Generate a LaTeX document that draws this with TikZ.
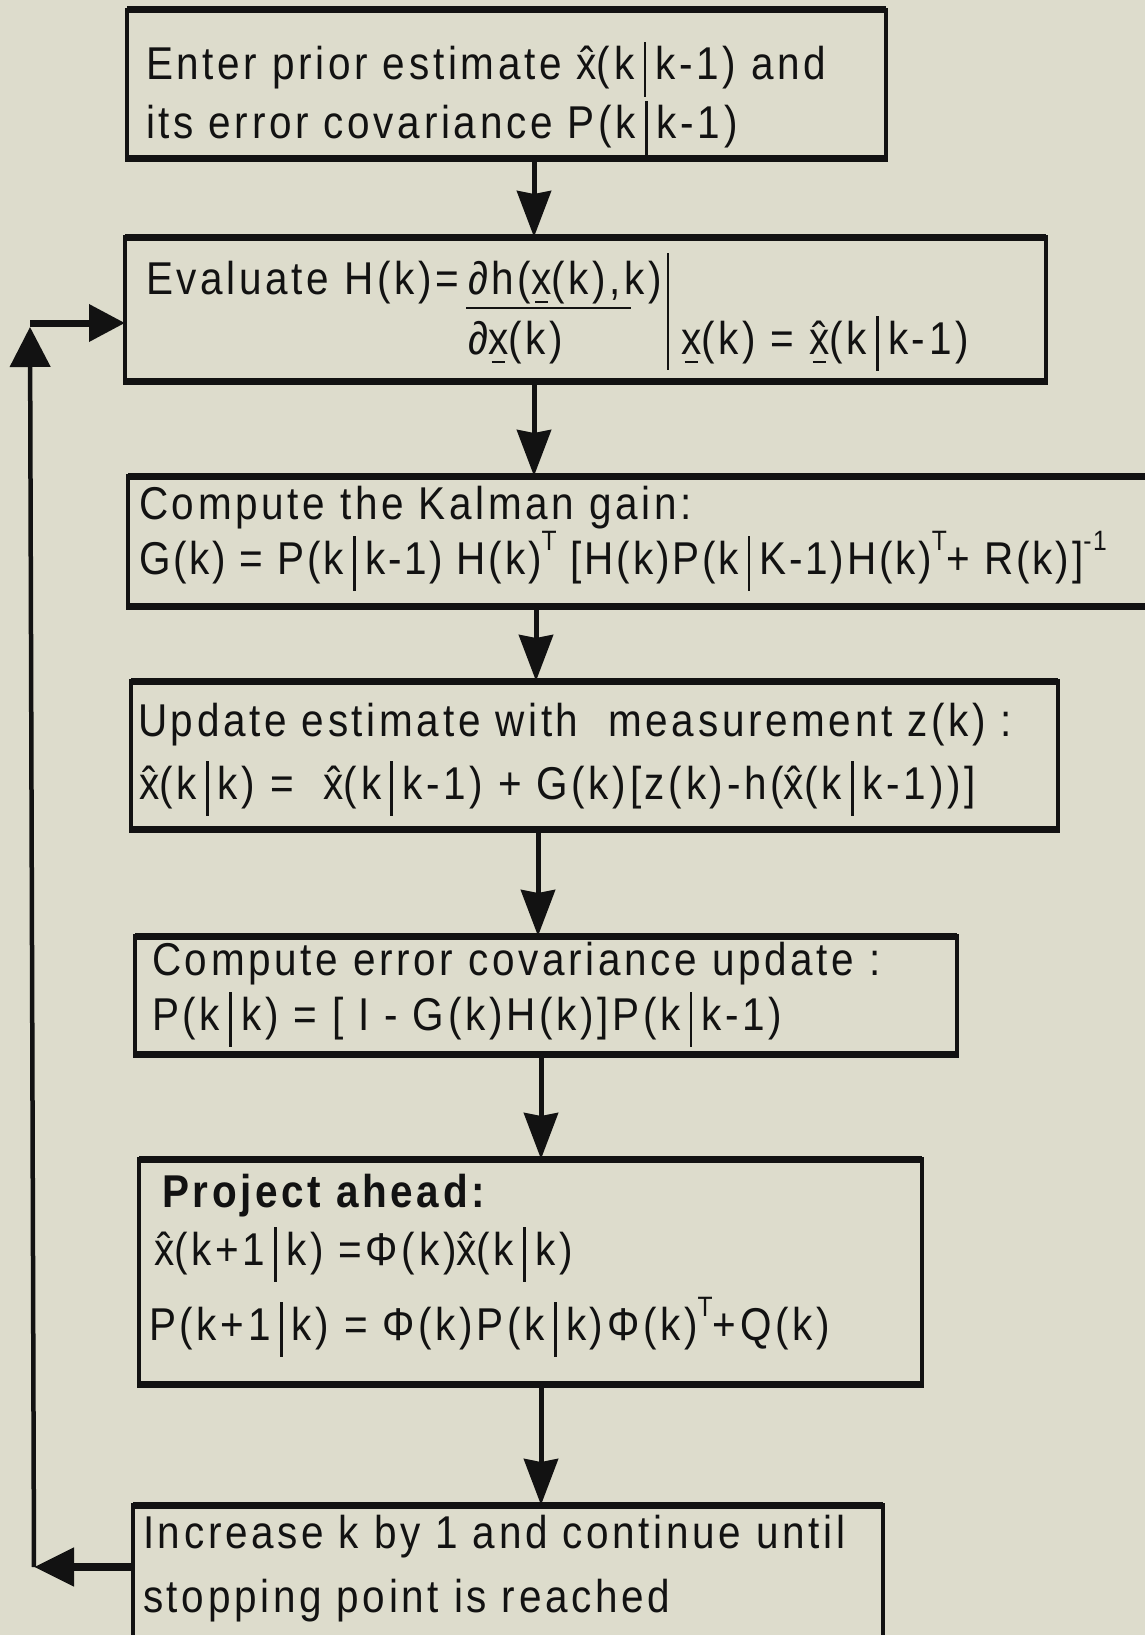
\documentclass[tikz,border=0pt]{standalone}
\usepackage{fontspec}
\setmainfont{Liberation Sans}[FakeStretch=0.88, LetterSpace=8]
\usetikzlibrary{arrows.meta}

\definecolor{paper}{RGB}{221,220,204}
\definecolor{ink}{RGB}{18,18,18}

% x with a hat, x underlined, and x with both
\newcommand\xh{\leavevmode\hbox{\ooalign{x\cr\hidewidth ˆ\hidewidth\cr}}}
\newcommand\xu{\leavevmode\hbox{\ooalign{x\cr\hidewidth\raisebox{-0.2em}{\rule{0.28em}{0.05em}}\hidewidth\cr}}}
\newcommand\xhu{\leavevmode\hbox{\ooalign{x\cr\hidewidth ˆ\hidewidth\cr\hidewidth\raisebox{-0.2em}{\rule{0.28em}{0.05em}}\hidewidth\cr}}}
% tall conditioning bar
\newcommand\vb{\hspace{0.2em}\rule[-0.36em]{0.06em}{1.18em}\hspace{0.2em}}
% small raised exponent
\newcommand\up[1]{\raisebox{0.52em}{\fontsize{28}{28}\selectfont #1}}

\tikzset{
  box/.style={draw=ink, line width=4pt, rectangle, inner sep=0pt, outer sep=0pt, anchor=north west},
  edge/.style={draw=ink, line width=7pt, shorten <=-2pt, shorten >=-2pt},
  txt/.style={anchor=base west, inner sep=0pt, outer sep=0pt, text=ink, font=\fontsize{46}{55}\selectfont},
  flow/.style={draw=ink, line width=5pt, -{Stealth[length=46pt,width=34pt,inset=3pt]}},
  back/.style={draw=ink, line width=8pt, -{Triangle[length=40pt,width=37pt]}},
  rise/.style={draw=ink, line width=4.5pt, -{Triangle[length=40pt,width=40pt]}},
  rule/.style={draw=ink, line width=2.5pt},
}

\begin{document}
\begin{tikzpicture}[x=1pt, y=-1pt]
\useasboundingbox (0,0) rectangle (1145,1635);
\clip (0,0) rectangle (1145,1635);
\fill[paper] (0,0) rectangle (1145,1635);

% boxes
\node[box, minimum width=759pt,  minimum height=148pt] (b1) at (127,10)   {};
\node[box, minimum width=921pt,  minimum height=144pt] (b2) at (125,237)  {};
\node[box, minimum width=1032pt, minimum height=130pt] (b3) at (128,476)  {};
\node[box, minimum width=927pt,  minimum height=148pt] (b4) at (131,681)  {};
\node[box, minimum width=822pt,  minimum height=118pt] (b5) at (135,936)  {};
\node[box, minimum width=783pt,  minimum height=225pt] (b6) at (139,1159) {};
\node[box, minimum width=750pt,  minimum height=160pt] (b7) at (133,1505) {};

% heavier top and bottom edges
\foreach \b in {b1,b2,b3,b4,b5,b6,b7}
  \draw[edge] (\b.north west) -- (\b.north east) (\b.south west) -- (\b.south east);

% box texts
\node[txt] (t1a) at (146,80)  {Enter prior estimate \xh(k\vb k-1) and};
\node[txt] (t1b) at (146,139) {its error covariance P(k\vb k-1)};

\node[txt] (t2a) at (146,294) {Evaluate H(k)=};
\node[txt] (t2n) at (468,294) {∂h(\xu(k),k)};
\draw[rule] (466,308) -- (631,308);
\node[txt] (t2d) at (468,354) {∂\xu(k)};
\draw[draw=ink, line width=2pt] (668,253) -- (668,370);
\node[txt] (t2e) at (681,354) {\xu(k) = \xhu(k\vb k-1)};

\node[txt] (t3a) at (139,519) {Compute the Kalman gain:};
\node[txt] (t3b) at (139,574) {\addfontfeature{LetterSpace=6}G(k) = P(k\vb k-1) H(k)\up{T} [H(k)P(k\vb K-1)H(k)\up{T}+ R(k)]\up{-1}};

\node[txt] (t4a) at (138,736) {Update estimate with \ measurement z(k) :};
\node[txt] (t4b) at (139,799) {\xh(k\vb k) = \ \xh(k\vb k-1) + G(k)[z(k)-h(\xh(k\vb k-1))]};

\node[txt] (t5a) at (152,975)  {Compute error covariance update :};
\node[txt] (t5b) at (152,1030) {P(k\vb k) = [ I - G(k)H(k)]P(k\vb k-1)};

\node[txt] (t6a) at (162,1207) {\bfseries Project ahead:};
\node[txt] (t6b) at (154,1265) {\xh(k+1\vb k) =Φ(k)\xh(k\vb k)};
\node[txt] (t6c) at (149,1340) {P(k+1\vb k) = Φ(k)P(k\vb k)Φ(k)\up{T}+Q(k)};

\node[txt] (t7a) at (143,1548) {Increase k by 1 and continue until};
\node[txt] (t7b) at (143,1612) {stopping point is reached};

% main flow
\draw[flow] (b1.south -| 534,0) -- (b2.north -| 534,0);
\draw[flow] (b2.south -| 534,0) -- (b3.north -| 534,0);
\draw[flow] (b3.south -| 536,0) -- (b4.north -| 536,0);
\draw[flow] (b4.south -| 538,0) -- (b5.north -| 538,0);
\draw[flow] (b5.south -| 541,0) -- (b6.north -| 541,0);
\draw[flow] (b6.south -| 541,0) -- (b7.north -| 541,0);

% loop back to the evaluation step
\coordinate (retL) at (34,1567);
\coordinate (retT) at (30,323);
\draw[back] (b7.west |- 0,1567) -- (retL);
\draw[rise, shorten >=4pt] (retL) -- (retT);
\draw[back, line width=7pt, -{Triangle[length=36pt,width=36pt]}] (retT) -- (b2.west |- 0,323);
\end{tikzpicture}
\end{document}
